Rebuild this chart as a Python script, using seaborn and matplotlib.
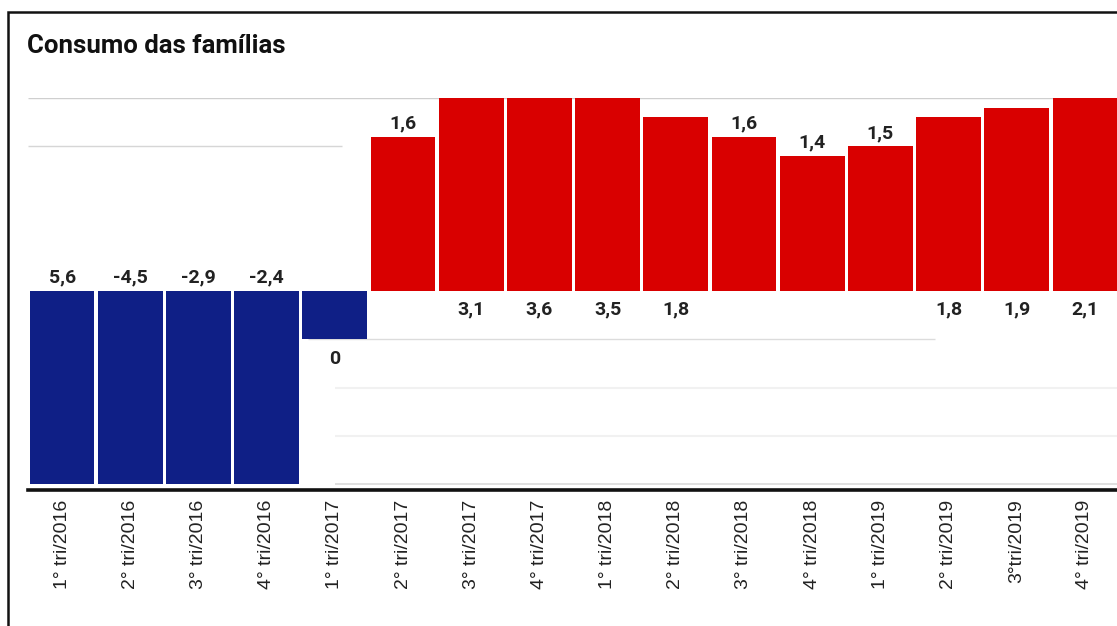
import matplotlib
matplotlib.use("Agg")
import matplotlib.pyplot as plt
from matplotlib.patches import Rectangle
import seaborn as sns
import pandas as pd

# Household consumption, year-over-year change (%) by quarter
quarters = ["1° tri/2016", "2° tri/2016", "3° tri/2016", "4° tri/2016",
            "1° tri/2017", "2° tri/2017", "3° tri/2017", "4° tri/2017",
            "1° tri/2018", "2° tri/2018", "3° tri/2018", "4° tri/2018",
            "1° tri/2019", "2° tri/2019", "3°tri/2019", "4° tri/2019"]
growth = [-5.6, -4.5, -2.9, -2.4, -0.5, 1.6, 3.1, 3.6,
          3.5, 1.8, 1.6, 1.4, 1.5, 1.8, 1.9, 2.1]
value_labels = ["5,6", "-4,5", "-2,9", "-2,4", "0", "1,6", "3,1", "3,6",
                "3,5", "1,8", "1,6", "1,4", "1,5", "1,8", "1,9", "2,1"]
label_spots = ["above_zero", "above_zero", "above_zero", "above_zero",
               "below_end", "above_end", "below_zero", "below_zero",
               "below_zero", "below_zero", "above_end", "above_end",
               "above_end", "below_zero", "below_zero", "below_zero"]

RED = "#d90000"
BLUE = "#0f1f86"

df = pd.DataFrame({"trimestre": quarters, "variacao": growth})
colors = [BLUE if v < 0 else RED for v in growth]

W, H = 1117, 626
fig = plt.figure(figsize=(W / 100, H / 100), dpi=100)
fig.patch.set_facecolor("white")

ax_left, ax_top, ax_bottom = 28, 98, 490
ax = fig.add_axes([ax_left / W, 1 - ax_bottom / H, (W - ax_left) / W, (ax_bottom - ax_top) / H])
ax.set_facecolor("white")

ymin, ymax = -2.06, 2.0

# light guide lines behind the bars
ax.hlines(2.0, -0.5, 16, color="#cfcfcf", lw=1.0, zorder=0)
ax.hlines(1.5, -0.5, 4.1, color="#d6d6d6", lw=1.0, zorder=0)
ax.hlines(-0.5, 3.6, 12.8, color="#dcdcdc", lw=1.0, zorder=0)
ax.hlines([-1.0, -1.5], 4.0, 16, color="#f1f1f1", lw=1.5, zorder=0)
ax.hlines(-2.0, 4.0, 16, color="#dadada", lw=1.2, zorder=0)

sns.barplot(data=df, x="trimestre", y="variacao", hue="trimestre",
            palette=colors, legend=False, width=0.95, saturation=1,
            ax=ax, zorder=2)

clip = Rectangle((-1, -2.0), 20, 4.0, transform=ax.transData)
for p in ax.patches:
    p.set_clip_path(clip)
    p.set_edgecolor("none")

ax.set_xlim(-0.5, 15.47)
ax.set_ylim(ymin, ymax)

px2pt = 0.72
offsets = {"above_zero": 14, "below_zero": -18, "above_end": 13, "below_end": -20}
for i, (v, lab, spot) in enumerate(zip(growth, value_labels, label_spots)):
    anchor = 0 if spot.endswith("zero") else v
    ax.annotate(lab, xy=(i, anchor), xytext=(0, offsets[spot] * px2pt),
                textcoords="offset points", ha="center", va="center",
                fontsize=14, fontfamily="Roboto", fontweight="bold",
                color="#222222", zorder=5)

for s in ["top", "right", "left"]:
    ax.spines[s].set_visible(False)
ax.spines["bottom"].set_linewidth(2.6)
ax.spines["bottom"].set_color("#111111")
ax.spines["bottom"].set_zorder(6)
ax.set_yticks([])
ax.set_xlabel("")
ax.set_ylabel("")
ax.tick_params(axis="x", length=0, pad=7)
ax.set_xticks(range(len(quarters)))
ax.set_xticklabels(quarters, rotation=90, fontsize=14,
                   fontfamily="Liberation Sans", color="#222222")

fig.text(27 / W, 1 - 46 / H, "Consumo das famílias", ha="left", va="center",
         fontsize=18.5, fontweight="bold", fontfamily="Roboto", color="#111111")

fig.patches.append(Rectangle((8 / W, -0.2), 2, 1 - 12 / H + 0.2,
                             transform=fig.transFigure, fill=False,
                             ec="#111111", lw=1.8, zorder=10))

fig.savefig("out.png", dpi=100, facecolor="white")
